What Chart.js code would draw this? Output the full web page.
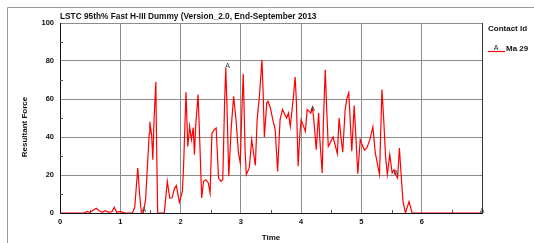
<!DOCTYPE html>
<html>
<head>
<meta charset="utf-8">
<script src="https://cdn.jsdelivr.net/npm/chart.js@4/dist/chart.umd.min.js"></script>
<style>
  html, body { margin: 0; padding: 0; background: #fff; }
</style>
</head>
<body>
<canvas id="forceChart" width="534" height="243"></canvas>
<script>
const titleText = 'LSTC 95th% Fast H-III Dummy (Version_2.0, End-September 2013'
const legendTitle = 'Contact Id'
const seriesName = 'Ma 29'
const xTitle = 'Time'
const yTitle = 'Resultant Force'

const time = [0, 0.4, 0.45, 0.5, 0.55, 0.6, 0.65, 0.7, 0.75, 0.8, 0.86, 0.9, 0.94, 1.0, 1.05, 1.1, 1.2, 1.24,
    1.29, 1.32, 1.35, 1.38, 1.42, 1.48, 1.49, 1.52, 1.54, 1.56, 1.59, 1.6, 1.62, 1.73, 1.78, 1.82, 1.86, 1.9,
    1.93, 1.98, 2.03, 2.05, 2.09, 2.12, 2.15, 2.18, 2.21, 2.23, 2.25, 2.29, 2.31, 2.35, 2.38, 2.42, 2.46, 2.49,
    2.52, 2.56, 2.59, 2.63, 2.67, 2.7, 2.73, 2.75, 2.77, 2.8, 2.84, 2.88, 2.92, 2.96, 2.99, 3.02, 3.04, 3.07,
    3.09, 3.14, 3.18, 3.21, 3.24, 3.27, 3.31, 3.35, 3.37, 3.39, 3.43, 3.45, 3.49, 3.53, 3.57, 3.61, 3.65, 3.69,
    3.73, 3.76, 3.79, 3.82, 3.87, 3.9, 3.92, 3.95, 3.98, 4.0, 4.04, 4.07, 4.1, 4.13, 4.16, 4.19, 4.22, 4.25,
    4.29, 4.31, 4.35, 4.37, 4.4, 4.42, 4.45, 4.48, 4.53, 4.57, 4.6, 4.63, 4.66, 4.69, 4.73, 4.76, 4.79, 4.81,
    4.84, 4.88, 4.94, 4.98, 5.01, 5.05, 5.09, 5.14, 5.19, 5.23, 5.3, 5.34, 5.37, 5.4, 5.43, 5.47, 5.51, 5.54,
    5.57, 5.6, 5.63, 5.66, 5.69, 5.73, 5.79, 5.84, 7]
const force = [0, 0, 0.8, 0.4, 1.5, 2.5, 1.2, 0.4, 1.2, 0.5, 0.6, 3, 0.4, 0.8, 0.2, 0, 0, 3,
    23.7, 10, 0, 0, 7, 41.8, 48, 41, 28, 49, 69, 41, 0, 0, 16.7, 7.9, 8, 13,
    14.4, 5.6, 11.4, 24.6, 63.5, 35, 45.6, 38.6, 45, 30.7, 45.6, 62.3, 45.6, 7.9, 16.7, 17.5, 15.8, 10.5,
    42, 43.9, 44.7, 18.4, 16.7, 17.5, 57.9, 76.3, 56, 19.3, 44.7, 61.4, 49, 31.6, 26.3, 57, 73.3, 33,
    20.2, 23.7, 38.6, 31.6, 25, 49, 62.3, 80.7, 63, 40, 58, 58.8, 55.3, 49, 43.9, 21.9, 49, 54.4,
    51.8, 50, 52.6, 45.6, 60.5, 71.6, 59.6, 24.6, 42, 49, 45.6, 43, 54.4, 53.5, 52.6, 55.3, 45.6, 33.3,
    52.6, 38.6, 21, 49, 75.4, 58, 35, 36.8, 40, 35, 31.2, 50, 40, 32, 54.4, 60.5, 63.2, 51,
    32.5, 56.5, 20.7, 38.6, 36, 33, 34.2, 38.6, 45.3, 31.6, 20.2, 65, 49, 29.8, 20.2, 30.7, 21, 22.8,
    20.2, 18.4, 34.2, 19.3, 6, 0, 6, 0, 0]

// curve symbol "A" positions
const markerTime = [1.39, 2.78, 4.19, 5.57, 7]
const markerForce = [1.5, 77.5, 54.6, 21.2, 1]

const boldFont = size => 'bold ' + size + 'px "Liberation Sans", Arial, sans-serif'

const extras = {
    id: 'extras',
    beforeDraw(chart) {
        const c = chart.ctx
        c.save()
        c.fillStyle = '#fff'
        c.fillRect(0, 0, chart.width, chart.height)
        c.strokeStyle = '#9a9a9a'
        c.lineWidth = 1
        c.beginPath()
        c.moveTo(7.5, chart.height)
        c.lineTo(7.5, 7.5)
        c.lineTo(chart.width, 7.5)
        c.stroke()
        c.restore()
    },
    afterDraw(chart) {
        const c = chart.ctx
        const xs = chart.scales.x
        const ys = chart.scales.y
        const area = chart.chartArea
        c.save()

        // minor ticks pointing into the plot
        c.strokeStyle = '#555'
        c.lineWidth = 1
        c.beginPath()
        for (let v = 10; v < 100; v += 20) {
            const py = Math.round(ys.getPixelForValue(v)) + 0.5
            c.moveTo(area.left, py)
            c.lineTo(area.left + 3, py)
        }
        for (let v = 0.5; v < 7; v += 1) {
            const px = Math.round(xs.getPixelForValue(v)) + 0.5
            c.moveTo(px, area.bottom)
            c.lineTo(px, area.bottom - 3)
        }
        c.stroke()

        // curve symbols
        c.fillStyle = '#333'
        c.font = '7px "Liberation Sans", Arial, sans-serif'
        c.textAlign = 'center'
        c.textBaseline = 'middle'
        markerTime.forEach((t, i) => {
            c.fillText('A', xs.getPixelForValue(t), ys.getPixelForValue(markerForce[i]))
        })

        // title
        c.fillStyle = '#111'
        c.textAlign = 'left'
        c.font = boldFont(8.3)
        c.fillText(titleText, area.left, 17)

        // legend
        c.font = boldFont(8)
        c.fillText(legendTitle, 488, 29)
        c.strokeStyle = '#ff0000'
        c.lineWidth = 1.2
        c.beginPath()
        c.moveTo(488, 51.5)
        c.lineTo(505, 51.5)
        c.stroke()
        c.font = '7px "Liberation Sans", Arial, sans-serif'
        c.textAlign = 'center'
        c.fillText('A', 496, 48.5)
        c.textAlign = 'left'
        c.font = boldFont(8)
        c.fillText(seriesName, 506, 49)

        // axis titles
        c.textAlign = 'center'
        c.fillText(xTitle, (area.left + area.right) / 2, 238)
        c.translate(25, 127)
        c.rotate(-Math.PI / 2)
        c.fillText(yTitle, 0, 0)
        c.restore()
    }
}

const points = time.map((t, i) => ({ x: t, y: force[i] }))

const forceChart = new Chart('forceChart', {
    type: 'line',
    data: {
        datasets: [{
            label: seriesName,
            data: points,
            borderColor: '#ff0000',
            borderWidth: 1.2,
            pointRadius: 0,
            tension: 0,
            fill: false
        }]
    },
    options: {
        responsive: false,
        animation: false,
        events: [],
        layout: { padding: { left: 0, right: 52, top: 23, bottom: 0 } },
        plugins: {
            legend: { display: false },
            title: { display: false },
            tooltip: { enabled: false }
        },
        scales: {
            x: {
                type: 'linear',
                min: 0,
                max: 7,
                afterFit: scale => { scale.height = 30 },
                ticks: {
                    stepSize: 1,
                    padding: 4,
                    color: '#111',
                    font: { size: 7.5, weight: 'bold', family: '"Liberation Sans", Arial, sans-serif' },
                    callback: v => v === 7 ? '' : v
                },
                grid: {
                    drawTicks: false,
                    color: ctx => ctx.tick && ctx.tick.value === 7 ? '#333' : '#8c8c8c'
                },
                border: { color: '#111', width: 1 }
            },
            y: {
                min: 0,
                max: 100,
                afterFit: scale => { scale.width = 60 },
                ticks: {
                    stepSize: 20,
                    padding: 6,
                    color: '#111',
                    font: { size: 7.5, weight: 'bold', family: '"Liberation Sans", Arial, sans-serif' }
                },
                grid: {
                    drawTicks: false,
                    color: '#8c8c8c'
                },
                border: { color: '#111', width: 1 }
            }
        }
    },
    plugins: [extras]
})
</script>
</body>
</html>
